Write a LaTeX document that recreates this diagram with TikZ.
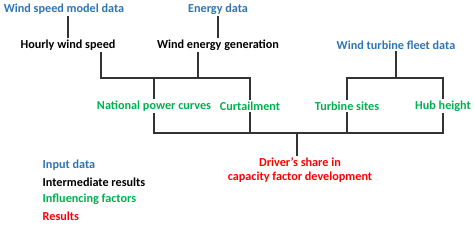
\documentclass[tikz,border=0pt]{standalone}
\usepackage{fontspec}
\setmainfont{Carlito}
\usetikzlibrary{positioning, calc}
\definecolor{inblue}{HTML}{2E75B6}
\definecolor{facgreen}{HTML}{00B050}
\definecolor{resred}{HTML}{FF0000}
\definecolor{linegray}{HTML}{333333}

\begin{document}
\begin{tikzpicture}[
    x=1pt, y=-1pt,
    every node/.style={font=\fontsize{12.2}{13.5}\selectfont\bfseries, inner sep=1.5pt},
    input/.style={text=inblue},
    inter/.style={text=black},
    factor/.style={text=facgreen},
    result/.style={text=resred, align=center},
    legend/.style={anchor=west},
    link/.style={draw=linegray, line width=1.5pt}
]
\useasboundingbox (0,0) rectangle (474,225);

% input data
\node[input] (windmodel) at (64,9)  {Wind speed model data};
\node[input] (energy)    at (218,9) {Energy data};
\node[input] (fleet)     at (396,45) {Wind turbine fleet data};

% intermediate results
\node[inter] (hourly)    at (68,45)  {Hourly wind speed};
\node[inter] (energygen) at (218,45) {Wind energy generation};

% influencing factors
\node[factor] (natpower) at (154,106) {National power curves};
\node[factor] (curtail)  at (250,106) {Curtailment};
\node[factor] (sites)    at (347,106) {Turbine sites};
\node[factor] (hub)      at (443,106) {Hub height};

% result
\node[result] (share) at (300,170) {Driver's share in\\capacity factor development};

% junctions
\coordinate (busA) at (154,78);
\coordinate (busB) at (396,78);
\coordinate (busC) at (297,133);

\draw[link] (hourly.north) -- (hourly.north |- windmodel.south);
\draw[link] (energygen.north) -- (energygen.north |- energy.south);

\draw[link] ([xshift=33pt]hourly.south) |- (curtail.north |- busA) -- (curtail.north);
\draw[link] ([xshift=-20pt]energygen.south) -- ([xshift=-20pt]energygen.south |- busA);
\draw[link] (natpower.north) -- (busA);

\draw[link] (fleet.south) -- (busB);
\draw[link] (sites.north) |- (hub.north |- busB) -- (hub.north);

\draw[link] (natpower.south) |- (hub.south |- busC) -- (hub.south);
\draw[link] (curtail.south) -- (curtail.south |- busC);
\draw[link] (sites.south) -- (sites.south |- busC);
\draw[link] (busC) -- (share.north -| busC);

% legend
\node[input, legend]  (leg1) at (41,165) {Input data};
\node[inter, legend]  (leg2) at (41,182) {Intermediate results};
\node[factor, legend] (leg3) at (41,199) {Influencing factors};
\node[result, legend] (leg4) at (41,216) {Results};
\end{tikzpicture}
\end{document}
